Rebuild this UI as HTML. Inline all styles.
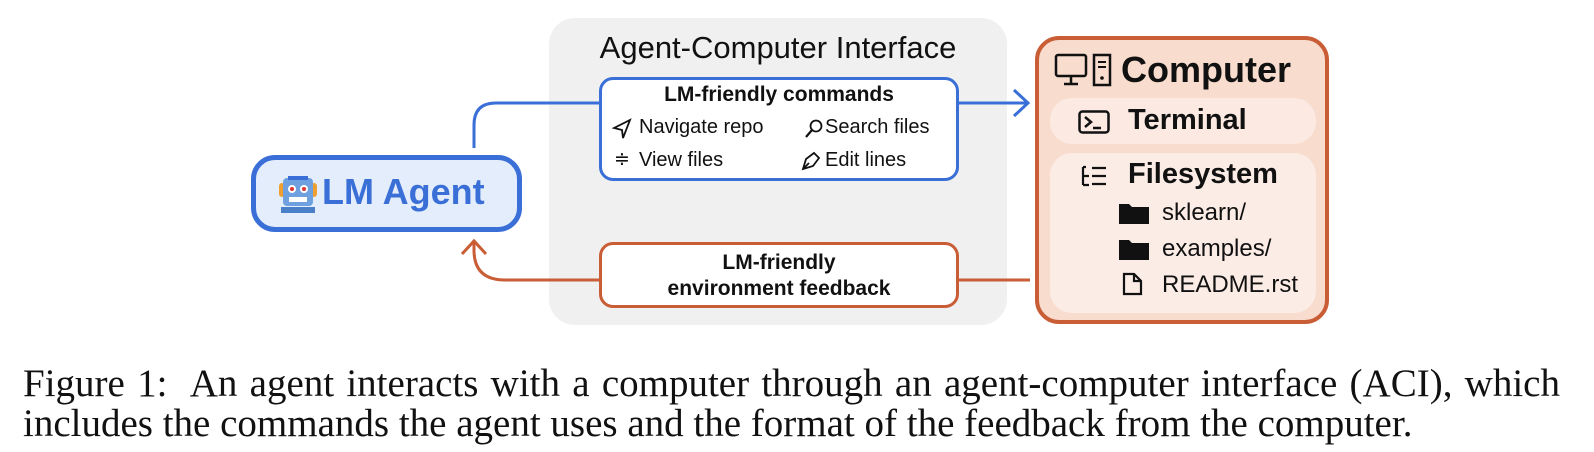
<!DOCTYPE html>
<html><head><meta charset="utf-8"><style>
body{margin:0;width:1594px;height:452px;background:#fff;position:relative;overflow:hidden;font-family:"Liberation Sans","DejaVu Sans",sans-serif;}
.a{position:absolute;box-sizing:border-box;}
.t{position:absolute;white-space:nowrap;}
</style></head><body>
<div class="a" style="left:549px;top:18px;width:458px;height:307px;background:#f0f0f0;border-radius:26px;"></div>
<div class="t" style="left:549px;width:458px;text-align:center;top:30px;font-size:31px;color:#111;">Agent-Computer Interface</div>

<svg class="a" style="left:0;top:0" width="1594" height="452">
<path d="M474 148 V125 Q474 103 496 103 H600" fill="none" stroke="#3a6fd8" stroke-width="3"/>
<path d="M958 103 H1028" fill="none" stroke="#3a6fd8" stroke-width="3"/>
<path d="M1014 90 L1028 103 L1014 116" fill="none" stroke="#3a6fd8" stroke-width="3"/>
<path d="M1030 280 H958" fill="none" stroke="#c95d35" stroke-width="3"/>
<path d="M600 280 H505 Q474 280 474 250 V240" fill="none" stroke="#c95d35" stroke-width="3"/>
<path d="M462 254 L474 241 L486 254" fill="none" stroke="#c95d35" stroke-width="3"/>
</svg>

<div class="a" style="left:599px;top:77px;width:360px;height:104px;background:#fff;border:3px solid #3a6fd8;border-radius:14px;"></div>
<div class="t" style="left:599px;width:360px;text-align:center;top:83px;font-size:21px;font-weight:bold;color:#111;">LM-friendly commands</div>
<svg class="a" style="left:612px;top:118px" width="20" height="22"><path d="M2 10 L18 2 L11 20 L10 12 Z" fill="none" stroke="#111" stroke-width="1.8"/></svg>
<div class="t" style="left:639px;top:116px;font-size:20px;color:#111;">Navigate repo</div>
<svg class="a" style="left:803px;top:118px" width="20" height="22"><circle cx="13" cy="8" r="5.5" fill="none" stroke="#111" stroke-width="1.8"/><path d="M9 12 L3 19" stroke="#111" stroke-width="2.2"/></svg>
<div class="t" style="left:825px;top:116px;font-size:20px;color:#111;">Search files</div>
<div class="t" style="left:614px;top:148px;font-size:19px;color:#111;">≑</div>
<div class="t" style="left:639px;top:149px;font-size:20px;color:#111;">View files</div>
<svg class="a" style="left:800px;top:150px" width="22" height="22"><path d="M3 19 L6 9 L14 3 L19 8 L13 16 Z M3 19 L9 13" fill="none" stroke="#111" stroke-width="1.8"/></svg>
<div class="t" style="left:825px;top:149px;font-size:20px;color:#111;">Edit lines</div>

<div class="a" style="left:599px;top:242px;width:360px;height:66px;background:#fff;border:3px solid #c95d35;border-radius:14px;"></div>
<div class="t" style="left:599px;width:360px;text-align:center;top:250px;font-size:21px;font-weight:bold;color:#111;line-height:26px;">LM-friendly<br>environment feedback</div>

<div class="a" style="left:251px;top:155px;width:271px;height:77px;background:#e3edfb;border:5px solid #3a6fd8;border-radius:24px;"></div>
<svg class="a" style="left:278px;top:173px" width="40" height="42">
<rect x="1" y="10" width="6" height="14" rx="3" fill="#f0a030"/><rect x="33" y="10" width="6" height="14" rx="3" fill="#f0a030"/>
<rect x="5" y="5" width="30" height="28" rx="4" fill="#6fa0e0"/><rect x="10" y="3" width="20" height="4" fill="#3a6fd8"/>
<circle cx="14" cy="16" r="4" fill="#fff"/><circle cx="14" cy="16" r="2" fill="#d33"/>
<circle cx="26" cy="16" r="4" fill="#fff"/><circle cx="26" cy="16" r="2" fill="#d33"/>
<rect x="11" y="24" width="18" height="5" fill="#fff"/><rect x="3" y="34" width="34" height="6" fill="#4a80c8"/>
</svg>
<div class="t" style="left:322px;top:171px;font-size:36px;font-weight:bold;color:#3a6fd8;">LM Agent</div>

<div class="a" style="left:1035px;top:36px;width:294px;height:288px;background:#f8dccd;border:4px solid #c95d35;border-radius:24px;"></div>
<svg class="a" style="left:1054px;top:53px" width="62" height="34"><rect x="2" y="2" width="30" height="21" rx="2" fill="none" stroke="#111" stroke-width="2.5"/><path d="M17 23 V30 M10 31 H24" stroke="#111" stroke-width="2.5"/><rect x="40" y="2" width="16" height="30" fill="none" stroke="#111" stroke-width="2.5"/><path d="M44 9 H52 M44 14 H52" stroke="#111" stroke-width="2"/><circle cx="48" cy="25" r="1.8" fill="#111"/></svg>
<div class="t" style="left:1121px;top:49px;font-size:36px;font-weight:bold;color:#111;">Computer</div>
<div class="a" style="left:1050px;top:98px;width:266px;height:46px;background:#fbe9e2;border-radius:22px;"></div>
<svg class="a" style="left:1078px;top:110px" width="32" height="24"><rect x="1.5" y="1.5" width="29" height="21" rx="3" fill="none" stroke="#111" stroke-width="2.5"/><path d="M7 7 L13 12 L7 17 M15 18 H23" fill="none" stroke="#111" stroke-width="2.5"/></svg>
<div class="t" style="left:1128px;top:104px;font-size:29px;font-weight:bold;color:#111;">Terminal</div>
<div class="a" style="left:1050px;top:153px;width:266px;height:160px;background:#fbece6;border-radius:22px;"></div>
<svg class="a" style="left:1080px;top:165px" width="28" height="24"><path d="M3 2 V20 M3 11 H9 M3 20 H9 M3 2 H6 M12 3 H26 M12 11 H26 M12 19 H26" fill="none" stroke="#111" stroke-width="2.2"/></svg>
<div class="t" style="left:1128px;top:158px;font-size:29px;font-weight:bold;color:#111;">Filesystem</div>
<svg class="a" style="left:1118px;top:201px" width="32" height="24"><path d="M1 3 H11 L14 6 H31 V23 H1 Z" fill="#111"/></svg>
<div class="t" style="left:1162px;top:199px;font-size:24px;color:#111;">sklearn/</div>
<svg class="a" style="left:1118px;top:237px" width="32" height="24"><path d="M1 3 H11 L14 6 H31 V23 H1 Z" fill="#111"/></svg>
<div class="t" style="left:1162px;top:235px;font-size:24px;color:#111;">examples/</div>
<svg class="a" style="left:1122px;top:272px" width="22" height="24"><path d="M2 2 H12 L19 9 V22 H2 Z M12 2 V9 H19" fill="none" stroke="#111" stroke-width="2.2"/></svg>
<div class="t" style="left:1162px;top:271px;font-size:24px;color:#111;">README.rst</div>

<div class="a" style="left:23px;top:364px;width:1537px;font-family:'Liberation Serif',serif;font-size:39px;color:#111;line-height:40px;text-align:justify;text-align-last:justify;white-space:nowrap;">Figure 1:&nbsp; An agent interacts with a computer through an agent-computer interface (ACI), which</div>
<div class="t" style="left:23px;top:404px;font-family:'Liberation Serif',serif;font-size:39px;color:#111;line-height:40px;">includes the commands the agent uses and the format of the feedback from the computer.</div>
</body></html>
